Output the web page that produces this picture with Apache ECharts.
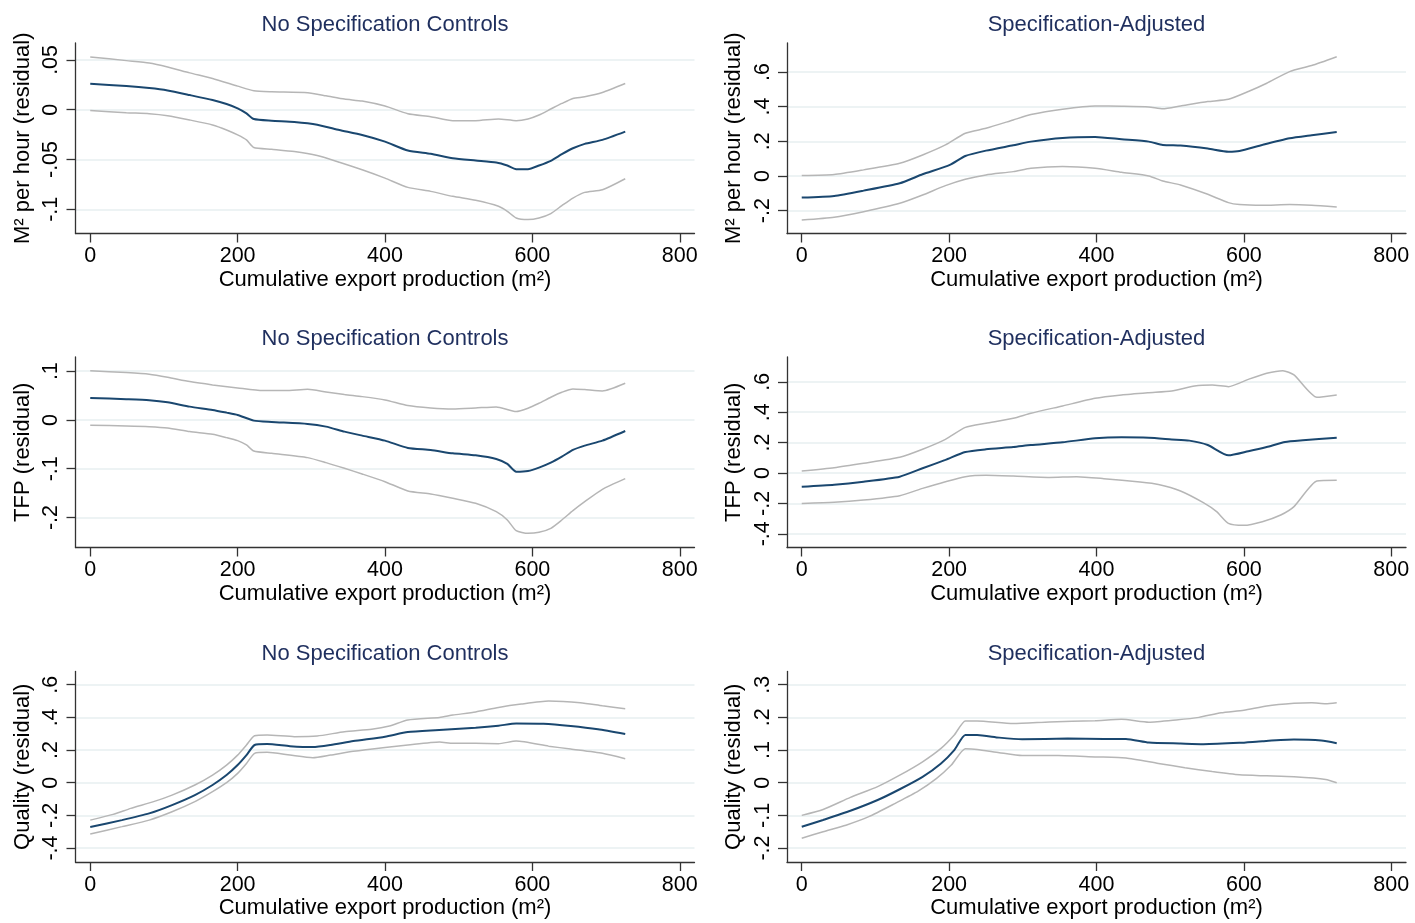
<!DOCTYPE html>
<html>
<head>
<meta charset="utf-8">
<script src="https://cdn.jsdelivr.net/npm/echarts@6/dist/echarts.min.js"></script>
<style>
html,body{margin:0;padding:0;background:#fff;}
#chart{width:1415px;height:923px;}
</style>
</head>
<body>
<div id="chart"></div>
<script>
// ---------------- DATA ----------------
const COL_TITLES = ['No Specification Controls', 'Specification-Adjusted'];
const Y_NAMES = ['M\u00b2 per hour (residual)', 'TFP (residual)', 'Quality (residual)'];
const X_NAME = 'Cumulative export production (m\u00b2)';
const X_TICKS = [0, 200, 400, 600, 800];

const P1_Y_TICKS = [-0.1, -0.05, 0, 0.05];
const P2_Y_TICKS = [-0.2, 0, 0.2, 0.4, 0.6];
const P3_Y_TICKS = [-0.2, -0.1, 0, 0.1];
const P4_Y_TICKS = [-0.4, -0.2, 0, 0.2, 0.4, 0.6];
const P5_Y_TICKS = [-0.4, -0.2, 0, 0.2, 0.4, 0.6];
const P6_Y_TICKS = [-0.2, -0.1, 0, 0.1, 0.2, 0.3];

// Panel 1: M2 per hour, no spec controls
const p1Fit = [[0,0.026],[49,0.0237],[80,0.0217],[105,0.0193],[135,0.0147],[166,0.0097],[185,0.0057],[200,0.0013],[212,-0.0037],[222,-0.0093],[246,-0.011],[277,-0.0123],[308,-0.015],[338,-0.0203],[369,-0.0253],[400,-0.032],[431,-0.041],[462,-0.0443],[492,-0.0487],[523,-0.051],[551,-0.053],[566,-0.056],[578,-0.0597],[594,-0.0597],[609,-0.056],[625,-0.0513],[640,-0.0447],[655,-0.0387],[671,-0.0343],[695,-0.0303],[726,-0.022]];
const p1Hi = [[0,0.053],[49,0.0493],[80,0.047],[105,0.043],[135,0.037],[166,0.0313],[200,0.0237],[222,0.019],[246,0.018],[295,0.017],[320,0.014],[345,0.0107],[369,0.0087],[400,0.0037],[431,-0.004],[462,-0.007],[492,-0.011],[523,-0.011],[554,-0.0093],[578,-0.011],[594,-0.0093],[609,-0.0053],[625,0.0007],[640,0.0063],[655,0.0113],[671,0.013],[695,0.0173],[726,0.0263]];
const p1Lo = [[0,-0.0007],[49,-0.003],[80,-0.004],[105,-0.006],[135,-0.0103],[166,-0.0153],[185,-0.0203],[200,-0.0253],[212,-0.0303],[222,-0.038],[246,-0.0397],[277,-0.042],[308,-0.046],[338,-0.0527],[369,-0.0603],[400,-0.0687],[431,-0.078],[462,-0.082],[492,-0.087],[523,-0.091],[554,-0.097],[566,-0.102],[578,-0.1087],[594,-0.1103],[609,-0.1087],[625,-0.1043],[640,-0.0963],[655,-0.0887],[671,-0.083],[695,-0.0803],[726,-0.0693]];

// Panel 2: M2 per hour, specification-adjusted
const p2Fit = [[0,-0.125],[44,-0.115],[84,-0.0846],[133,-0.042],[164,0.0096],[201,0.0635],[222,0.115],[250,0.146],[287,0.177],[311,0.198],[354,0.219],[398,0.225],[434,0.2115],[471,0.198],[490,0.179],[514,0.175],[551,0.158],[579,0.140],[594,0.144],[625,0.179],[662,0.217],[692,0.235],[726,0.254]];
const p2Hi = [[0,0.002],[44,0.008],[84,0.035],[133,0.073],[164,0.121],[195,0.179],[222,0.246],[250,0.275],[287,0.323],[311,0.354],[354,0.385],[398,0.404],[434,0.402],[471,0.398],[490,0.388],[514,0.404],[551,0.429],[579,0.442],[606,0.487],[631,0.535],[662,0.602],[692,0.637],[726,0.688]];
const p2Lo = [[0,-0.254],[44,-0.238],[84,-0.206],[133,-0.158],[164,-0.110],[195,-0.056],[222,-0.019],[250,0.006],[287,0.025],[311,0.044],[354,0.054],[398,0.044],[434,0.021],[471,0.0],[490,-0.029],[514,-0.052],[551,-0.106],[579,-0.154],[594,-0.165],[625,-0.169],[662,-0.165],[692,-0.169],[726,-0.179]];

// Panel 3: TFP, no spec controls
const p3Fit = [[0,0.0451],[49,0.0424],[80,0.0403],[105,0.0362],[135,0.0273],[166,0.0205],[185,0.015],[200,0.0103],[222,-0.0014],[246,-0.0041],[295,-0.0082],[320,-0.0137],[345,-0.0239],[369,-0.0321],[400,-0.0424],[431,-0.0574],[462,-0.0615],[492,-0.0684],[523,-0.0725],[551,-0.08],[566,-0.0902],[578,-0.106],[594,-0.1046],[609,-0.0977],[625,-0.0875],[640,-0.0752],[655,-0.0615],[671,-0.0526],[695,-0.0424],[726,-0.0226]];
const p3Hi = [[0,0.101],[49,0.097],[80,0.0936],[105,0.0875],[135,0.0786],[166,0.0718],[200,0.0656],[234,0.0601],[265,0.0601],[295,0.0629],[320,0.0574],[345,0.052],[369,0.0478],[400,0.041],[431,0.0294],[462,0.0246],[492,0.0226],[523,0.0246],[551,0.0267],[578,0.0171],[594,0.0239],[609,0.0342],[625,0.0465],[640,0.0567],[655,0.0636],[671,0.0622],[695,0.0595],[726,0.0752]];
const p3Lo = [[0,-0.0109],[49,-0.0123],[80,-0.0137],[105,-0.0164],[135,-0.0239],[166,-0.0294],[185,-0.0362],[200,-0.0424],[212,-0.0513],[222,-0.0636],[246,-0.0684],[295,-0.0772],[320,-0.0875],[345,-0.0991],[369,-0.1107],[400,-0.1265],[431,-0.1456],[462,-0.1517],[492,-0.1606],[523,-0.1709],[551,-0.188],[566,-0.205],[578,-0.2269],[594,-0.2324],[609,-0.2303],[625,-0.2221],[640,-0.205],[655,-0.1859],[671,-0.1675],[695,-0.1422],[726,-0.1203]];

// Panel 4: TFP, specification-adjusted
const p4Fit = [[0,-0.09],[44,-0.077],[84,-0.057],[133,-0.024],[164,0.031],[195,0.086],[222,0.138],[250,0.156],[287,0.171],[311,0.184],[354,0.202],[398,0.228],[434,0.235],[471,0.232],[502,0.221],[526,0.213],[551,0.184],[579,0.116],[606,0.143],[631,0.171],[656,0.204],[680,0.215],[726,0.232]];
const p4Hi = [[0,0.013],[44,0.035],[84,0.064],[133,0.103],[164,0.156],[195,0.221],[222,0.300],[250,0.327],[287,0.360],[311,0.393],[354,0.441],[398,0.491],[434,0.513],[471,0.528],[502,0.539],[533,0.572],[557,0.579],[579,0.568],[606,0.616],[631,0.656],[653,0.673],[668,0.645],[699,0.498],[726,0.513]];
const p4Lo = [[0,-0.2],[44,-0.193],[84,-0.178],[133,-0.149],[164,-0.101],[195,-0.057],[222,-0.024],[250,-0.015],[287,-0.020],[336,-0.029],[373,-0.024],[410,-0.037],[459,-0.059],[484,-0.075],[514,-0.118],[545,-0.195],[563,-0.254],[579,-0.331],[600,-0.344],[625,-0.320],[650,-0.276],[668,-0.221],[699,-0.053],[726,-0.048]];

// Panel 5: Quality, no spec controls
const p5Fit = [[0,-0.271],[43,-0.229],[80,-0.188],[111,-0.137],[142,-0.076],[166,-0.014],[185,0.047],[200,0.108],[212,0.169],[223,0.231],[240,0.237],[271,0.224],[302,0.218],[326,0.231],[357,0.255],[400,0.282],[431,0.310],[468,0.322],[523,0.337],[554,0.349],[578,0.363],[615,0.361],[652,0.347],[689,0.327],[726,0.298]];
const p5Hi = [[0,-0.229],[31,-0.194],[55,-0.157],[86,-0.116],[111,-0.076],[142,-0.014],[166,0.047],[185,0.108],[200,0.169],[212,0.231],[223,0.288],[240,0.292],[277,0.282],[308,0.286],[345,0.312],[382,0.327],[406,0.347],[431,0.384],[474,0.400],[492,0.414],[523,0.433],[554,0.461],[585,0.482],[622,0.500],[665,0.490],[695,0.471],[726,0.453]];
const p5Lo = [[0,-0.314],[43,-0.269],[80,-0.229],[111,-0.178],[142,-0.116],[166,-0.055],[185,0.0],[200,0.057],[212,0.118],[223,0.180],[240,0.186],[271,0.169],[302,0.153],[326,0.169],[357,0.192],[400,0.216],[431,0.231],[474,0.249],[492,0.241],[523,0.241],[554,0.239],[578,0.255],[622,0.224],[652,0.206],[695,0.180],[726,0.147]];

// Panel 6: Quality, specification-adjusted
const p6Fit = [[0,-0.135],[29,-0.114],[66,-0.086],[103,-0.053],[133,-0.020],[164,0.018],[189,0.059],[207,0.100],[222,0.146],[238,0.146],[268,0.138],[299,0.133],[361,0.135],[410,0.134],[440,0.134],[471,0.123],[514,0.120],[545,0.118],[594,0.122],[625,0.127],[668,0.132],[705,0.129],[726,0.121]];
const p6Hi = [[0,-0.100],[29,-0.082],[66,-0.045],[103,-0.012],[133,0.023],[164,0.064],[189,0.105],[207,0.146],[222,0.189],[238,0.189],[287,0.181],[336,0.186],[398,0.190],[434,0.194],[471,0.185],[508,0.192],[539,0.200],[569,0.214],[600,0.222],[631,0.235],[668,0.243],[692,0.245],[711,0.242],[726,0.245]];
const p6Lo = [[0,-0.170],[29,-0.150],[60,-0.130],[91,-0.104],[127,-0.063],[158,-0.026],[183,0.013],[203,0.054],[222,0.104],[238,0.102],[268,0.092],[299,0.083],[348,0.083],[398,0.079],[440,0.076],[484,0.059],[520,0.046],[557,0.034],[594,0.024],[631,0.021],[668,0.018],[711,0.010],[726,0.0]];

// ---------------- LAYOUT / STYLE ----------------
const FONT = "'Liberation Sans', Arial, sans-serif";
const TITLE_COLOR = '#1f2f5e';
const FIT_COLOR = '#1a476f';
const CI_COLOR = '#b6b6b6';
const AXIS_COLOR = '#333333';
const GRID_COLOR = '#e7eff1';

const COL_LEFT = [75.5, 787];
const GRID_W = 619;
const ROW_TOP = [43, 357, 671.5];
const GRID_H = 190.5;

const panels = [
  {row:0,col:0,ticks:P1_Y_TICKS,min:-0.1243,max:0.067, fit:p1Fit,hi:p1Hi,lo:p1Lo},
  {row:0,col:1,ticks:P2_Y_TICKS,min:-0.332,max:0.767, fit:p2Fit,hi:p2Hi,lo:p2Lo},
  {row:1,col:0,ticks:P3_Y_TICKS,min:-0.2614,max:0.129, fit:p3Fit,hi:p3Hi,lo:p3Lo},
  {row:1,col:1,ticks:P4_Y_TICKS,min:-0.490,max:0.763, fit:p4Fit,hi:p4Hi,lo:p4Lo},
  {row:2,col:0,ticks:P5_Y_TICKS,min:-0.4855,max:0.681, fit:p5Fit,hi:p5Hi,lo:p5Lo},
  {row:2,col:1,ticks:P6_Y_TICKS,min:-0.2427,max:0.3404, fit:p6Fit,hi:p6Hi,lo:p6Lo}
];

function stataFmt(v){
  let s = String(Math.round(v*1e6)/1e6);
  if (s.indexOf('0.') === 0) s = s.slice(1);
  else if (s.indexOf('-0.') === 0) s = '-' + s.slice(2);
  return s;
}

const grids = [], xAxes = [], yAxes = [], series = [], titles = [];
panels.forEach((p, i) => {
  const left = COL_LEFT[p.col], top = ROW_TOP[p.row];
  grids.push({left: left, top: top, width: GRID_W, height: GRID_H, containLabel: false, outerBoundsMode: 'none'});
  titles.push({
    text: COL_TITLES[p.col],
    left: left + GRID_W/2, top: top - 29, textAlign: 'center', padding: 0,
    textStyle: {color: TITLE_COLOR, fontFamily: FONT, fontSize: 22, fontWeight: 'normal'}
  });
  xAxes.push({
    type: 'value', gridIndex: i, min: -20, max: 820,
    axisLine: {show: true, onZero: false, lineStyle: {color: AXIS_COLOR, width: 1.3}},
    axisTick: {show: true, length: 9, customValues: X_TICKS, lineStyle: {color: AXIS_COLOR, width: 1.3}},
    axisLabel: {show: true, customValues: X_TICKS, margin: 12, color: '#000', fontFamily: FONT, fontSize: 21.5},
    splitLine: {show: false},
    name: X_NAME, nameLocation: 'middle', nameGap: 35, nameMoveOverlap: false,
    nameTextStyle: {color: '#000', fontFamily: FONT, fontSize: 22}
  });
  yAxes.push({
    type: 'value', gridIndex: i, min: p.min, max: p.max,
    axisLine: {show: true, onZero: false, lineStyle: {color: AXIS_COLOR, width: 1.3}},
    axisTick: {show: true, length: 9, customValues: p.ticks, lineStyle: {color: AXIS_COLOR, width: 1.3}},
    axisLabel: {show: true, customValues: p.ticks, rotate: 90, margin: 13, color: '#000', fontFamily: FONT, fontSize: 21.5, formatter: stataFmt},
    splitLine: {show: true, lineStyle: {color: GRID_COLOR, width: 1.5}},
    name: Y_NAMES[p.row], nameLocation: 'middle', nameGap: 42, nameRotate: 90, nameMoveOverlap: false,
    nameTextStyle: {color: '#000', fontFamily: FONT, fontSize: 22}
  });
  [['lo', CI_COLOR, 1.5], ['hi', CI_COLOR, 1.5], ['fit', FIT_COLOR, 2]].forEach(([k, c, w]) => {
    series.push({
      type: 'line', xAxisIndex: i, yAxisIndex: i, data: p[k],
      symbol: 'none', smooth: 0.2, silent: true,
      lineStyle: {color: c, width: w}, z: k === 'fit' ? 3 : 2
    });
  });
});

const chart = echarts.init(document.getElementById('chart'), null, {renderer: 'canvas'});
chart.setOption({
  backgroundColor: '#ffffff',
  animation: false,
  title: titles,
  grid: grids,
  xAxis: xAxes,
  yAxis: yAxes,
  series: series
});
</script>
</body>
</html>
